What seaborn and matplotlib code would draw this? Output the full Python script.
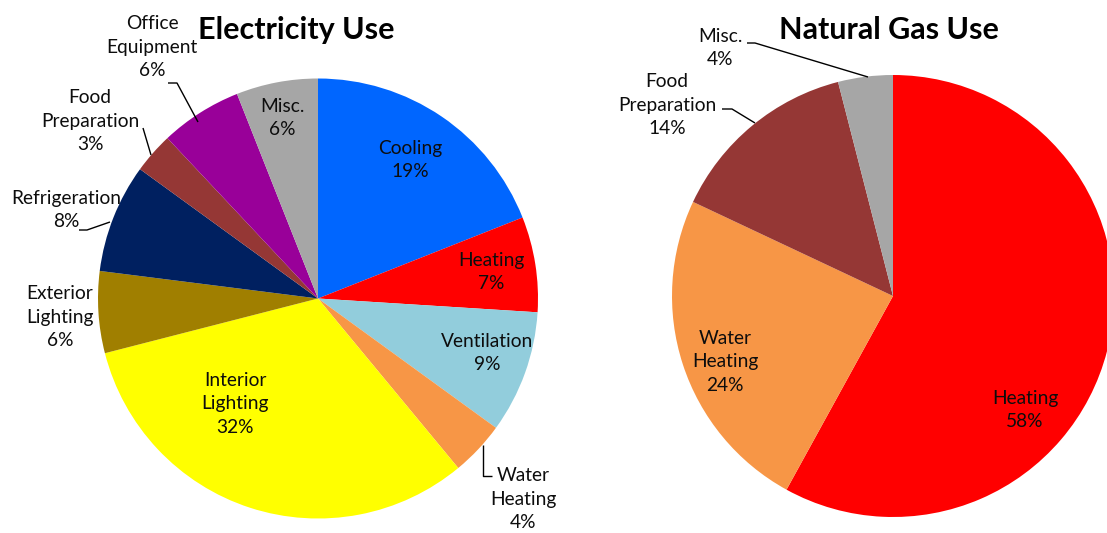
import matplotlib
matplotlib.use("Agg")
import matplotlib.pyplot as plt
import seaborn as sns

# ---------------- data ----------------
elec_labels = ["Cooling", "Heating", "Ventilation", "Water\nHeating", "Interior\nLighting",
               "Exterior\nLighting", "Refrigeration", "Food\nPreparation", "Office\nEquipment", "Misc."]
elec_values = [19, 7, 9, 4, 32, 6, 8, 3, 6, 6]
elec_colors = ["#0066FF", "#FF0000", "#92CDDC", "#F79646", "#FFFF00",
               "#A07F00", "#002060", "#953735", "#990099", "#A6A6A6"]

gas_labels = ["Heating", "Water\nHeating", "Food\nPreparation", "Misc."]
gas_values = [58, 24, 14, 4]
gas_colors = ["#FF0000", "#F79646", "#953735", "#A6A6A6"]

titles = ["Electricity Use", "Natural Gas Use"]

# ---------------- layout (pixel coords, y from top) ----------------
W, H = 1107, 533
elec_center, elec_radius = (318, 298.5), 220
gas_center, gas_radius = (893, 296), 221

elec_text_pos = [(410, 160), (491, 272), (487, 353), (523, 499), (235, 404),
                 (60, 317), (66, 210), (90, 121), (152, 47), (282, 118)]
gas_text_pos = [(1025, 410), (725, 362), (667, 105), (720, 48)]

elec_leaders = {3: [(483, 445), (483, 476), (492, 476)],
                6: [(79, 230), (87, 230), (110, 222)],
                7: [(143, 128), (151, 155)],
                8: [(168, 83), (177, 83), (198, 122)]}
gas_leaders = {2: [(722, 109), (732, 109), (755, 123)],
               3: [(747, 43), (755, 43), (868, 77)]}
title_pos = [(296, 30), (889, 30)]

sns.set_theme(style="white")
plt.rcParams["font.family"] = ["Lato", "DejaVu Sans"]

fig = plt.figure(figsize=(W / 100, H / 100), dpi=100)
ax = fig.add_axes([0, 0, 1, 1])


def P(x, y):
    return (x, H - y)


def draw_pie(values, colors, center, radius):
    ax.pie(values, colors=colors, startangle=90, counterclock=False,
           center=P(*center), radius=radius,
           wedgeprops=dict(linewidth=0), frame=False)


draw_pie(elec_values, elec_colors, elec_center, elec_radius)
draw_pie(gas_values, gas_colors, gas_center, gas_radius)

LABEL_FS = 13.8
for names, vals, pos in [(elec_labels, elec_values, elec_text_pos),
                         (gas_labels, gas_values, gas_text_pos)]:
    for n, v, (x, y) in zip(names, vals, pos):
        ax.text(*P(x, y), f"{n}\n{v}%", ha="center", va="center",
                fontsize=LABEL_FS, color="#0d0d0d", linespacing=1.45)

for d in (elec_leaders, gas_leaders):
    for pts in d.values():
        xs = [p[0] for p in pts]
        ys = [H - p[1] for p in pts]
        ax.plot(xs, ys, color="black", lw=1.0, solid_capstyle="butt")

for t, (x, y) in zip(titles, title_pos):
    ax.text(*P(x, y), t, ha="center", va="center", fontsize=22,
            fontweight="bold", color="black")

ax.set_xlim(0, W)
ax.set_ylim(0, H)
ax.set_aspect("equal", adjustable="box")
ax.axis("off")

fig.savefig("out.png", dpi=100, facecolor="white")
